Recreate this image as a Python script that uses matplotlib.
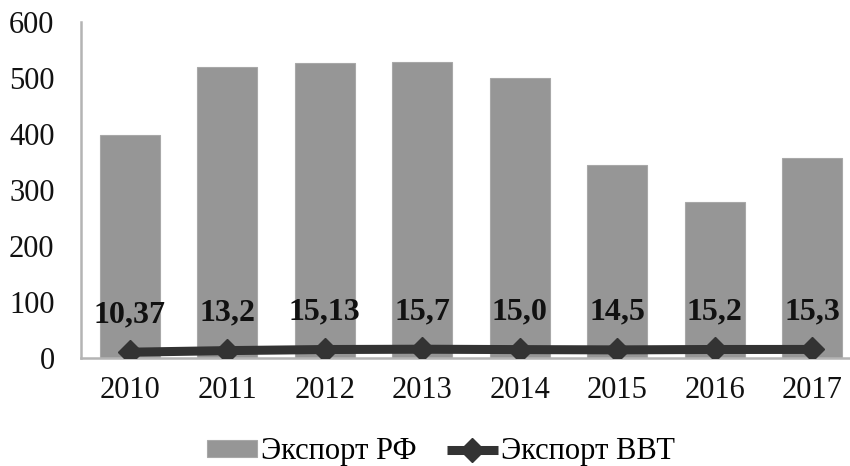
import matplotlib
matplotlib.use("Agg")
import matplotlib.pyplot as plt

years = ["2010", "2011", "2012", "2013", "2014", "2015", "2016", "2017"]
export_rf = [398, 520, 527, 529, 500, 345, 279, 358]
export_vvt = [10.37, 13.2, 15.13, 15.7, 15.0, 14.5, 15.2, 15.3]
vvt_labels = ["10,37", "13,2", "15,13", "15,7", "15,0", "14,5", "15,2", "15,3"]

plt.rcParams['font.family'] = ['Liberation Serif', 'DejaVu Serif']

fig = plt.figure(figsize=(8.5, 4.66), dpi=100)
ax = fig.add_axes([81 / 850, 1 - 358 / 466, 780 / 850, 336 / 466])

x = list(range(len(years)))
bars = ax.bar(x, export_rf, width=0.62, color='#969696', edgecolor='#a8a8a8',
              linewidth=0.8, label='Экспорт РФ', zorder=2)
line, = ax.plot(x, export_vvt, color='#333333', lw=6.5, marker='D', markersize=12,
                label='Экспорт ВВТ', zorder=3, solid_capstyle='butt')

for xi, v, lab in zip(x, export_vvt, vvt_labels):
    ax.annotate(lab, (xi, v), xytext=(0, 27), textcoords='offset points',
                ha='center', va='center', fontsize=23, fontweight='bold',
                color='#111111')

ax.set_xlim(-0.5, 7.5)
ax.set_ylim(0, 600)
ax.set_yticks(range(0, 601, 100))
ax.set_xticks(x)
ax.set_xticklabels(years)
ax.tick_params(axis='both', length=0, labelsize=22, colors='#111111')
ax.tick_params(axis='x', pad=13)
ax.tick_params(axis='y', pad=19)

for s in ['top', 'right']:
    ax.spines[s].set_visible(False)
for s in ['left', 'bottom']:
    ax.spines[s].set_color('#b4b4b4')
    ax.spines[s].set_linewidth(1.8)

fig.legend([bars, line], ['Экспорт РФ', 'Экспорт ВВТ'], loc='center',
           bbox_to_anchor=(441 / 850, 1 - 452 / 466), ncol=2,
           frameon=False, fontsize=22, handlelength=1.65, handleheight=0.5,
           columnspacing=1.0, handletextpad=0.12, borderpad=0.2)

fig.savefig("out.png", dpi=100)
